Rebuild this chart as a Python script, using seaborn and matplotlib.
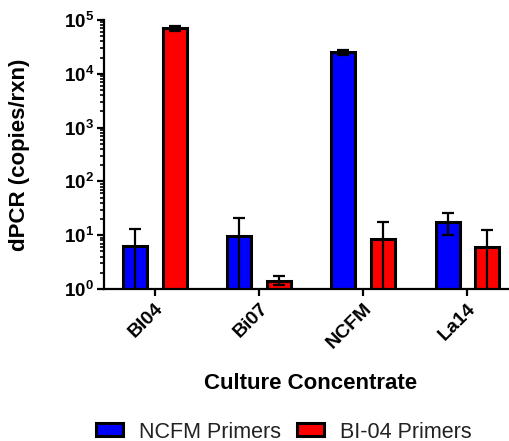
import matplotlib
matplotlib.use("Agg")
import matplotlib.pyplot as plt
import matplotlib.ticker as mticker
import numpy as np
import pandas as pd
import seaborn as sns

# ---- data ----
cultures = ["BI04", "Bi07", "NCFM", "La14"]
primers = ["NCFM Primers", "BI-04 Primers"]
ncfm_vals = [6.4, 9.7, 25000, 17.4]
bi04_vals = [70000, 1.43, 8.5, 6.0]
ncfm_hi = [12.9, 21.0, 27600, 26.2]
bi04_hi = [78000, 1.74, 17.8, 12.3]
ncfm_lo = [0.5, 0.5, 22400, 10.1]
bi04_lo = [62000, 1.19, 0.5, 0.5]
ytick_vals = [1, 10, 100, 1000, 10000, 100000]
ytick_labels = [r"$\mathbf{10^{0}}$", r"$\mathbf{10^{1}}$", r"$\mathbf{10^{2}}$",
                r"$\mathbf{10^{3}}$", r"$\mathbf{10^{4}}$", r"$\mathbf{10^{5}}$"]

sns.set_theme(style="ticks")
plt.rcParams["font.family"] = ["Liberation Sans", "DejaVu Sans"]
plt.rcParams["mathtext.fontset"] = "custom"
plt.rcParams["mathtext.rm"] = "Liberation Sans:bold"
plt.rcParams["mathtext.bf"] = "Liberation Sans:bold"
plt.rcParams["mathtext.it"] = "Liberation Sans:bold"
for key in ["text.color", "axes.labelcolor", "xtick.color", "ytick.color",
            "axes.edgecolor"]:
    plt.rcParams[key] = "black"

df = pd.DataFrame({
    "Culture": cultures * 2,
    "Primer": [primers[0]] * 4 + [primers[1]] * 4,
    "dPCR": ncfm_vals + bi04_vals,
})

fig = plt.figure(figsize=(5.10, 4.41), dpi=100)
ax = fig.add_axes([104 / 510, 1 - 289 / 441, 406 / 510, 269 / 441])

sns.barplot(data=df, x="Culture", y="dPCR", hue="Primer", order=cultures,
            hue_order=primers, palette=["#0000ff", "#ff0000"], edgecolor="black",
            linewidth=2.2, width=0.76, gap=0.395, errorbar=None, ax=ax,
            saturation=1)
ax.set_yscale("log")

his = [ncfm_hi, bi04_hi]
los = [ncfm_lo, bi04_lo]
vals = [ncfm_vals, bi04_vals]
bar_conts = list(ax.containers)
for k, cont in enumerate(bar_conts):
    xs = [b.get_x() + b.get_width() / 2 for b in cont.patches]
    v = np.array(vals[k])
    err = np.vstack([v - np.array(los[k]), np.array(his[k]) - v])
    ax.errorbar(xs, v, yerr=err, fmt="none", ecolor="black", elinewidth=1.6,
                capsize=4.6, capthick=1.6, zorder=5)

ax.set_ylim(1, 1e5)
ax.set_xlim(-0.49, 3.41)
ax.set_yticks(ytick_vals)
ax.set_yticklabels(ytick_labels, fontsize=13.5)
ax.yaxis.set_minor_locator(mticker.LogLocator(base=10, subs=np.arange(2, 10)))
ax.yaxis.set_minor_formatter(mticker.NullFormatter())
ax.tick_params(axis="y", which="major", length=5, width=1.6, pad=2)
ax.tick_params(axis="y", which="minor", length=3, width=1.2)
ax.tick_params(axis="x", which="major", length=5, width=1.6, pad=3)
ax.set_xticks(range(len(cultures)))
ax.set_xticklabels(cultures, rotation=45, ha="right", rotation_mode="anchor",
                   fontsize=14, fontweight="bold")
for s in ["top", "right"]:
    ax.spines[s].set_visible(False)
for s in ["left", "bottom"]:
    ax.spines[s].set_linewidth(1.6)
    ax.spines[s].set_color("black")

ax.set_xlabel("Culture Concentrate", fontsize=16, fontweight="bold")
ax.xaxis.set_label_coords(0.51, -0.35)
ax.xaxis.label.set_va("center")
ax.set_ylabel("dPCR (copies/rxn)", fontsize=16, fontweight="bold")
ax.yaxis.set_label_coords(-0.207, 0.50)
ax.yaxis.label.set_va("center")

sns.move_legend(ax, "center", bbox_to_anchor=(284 / 510, 1 - 432 / 441),
                bbox_transform=fig.transFigure, ncol=2, frameon=False,
                title=None, fontsize=15.5, handlelength=1.26, handleheight=0.56,
                handletextpad=0.74, columnspacing=0.74)
leg = ax.get_legend()
for h in leg.legend_handles:
    h.set_edgecolor("black")
    h.set_linewidth(2.2)
for t in leg.get_texts():
    t.set_color("#222222")

fig.savefig("out.png", dpi=100)
